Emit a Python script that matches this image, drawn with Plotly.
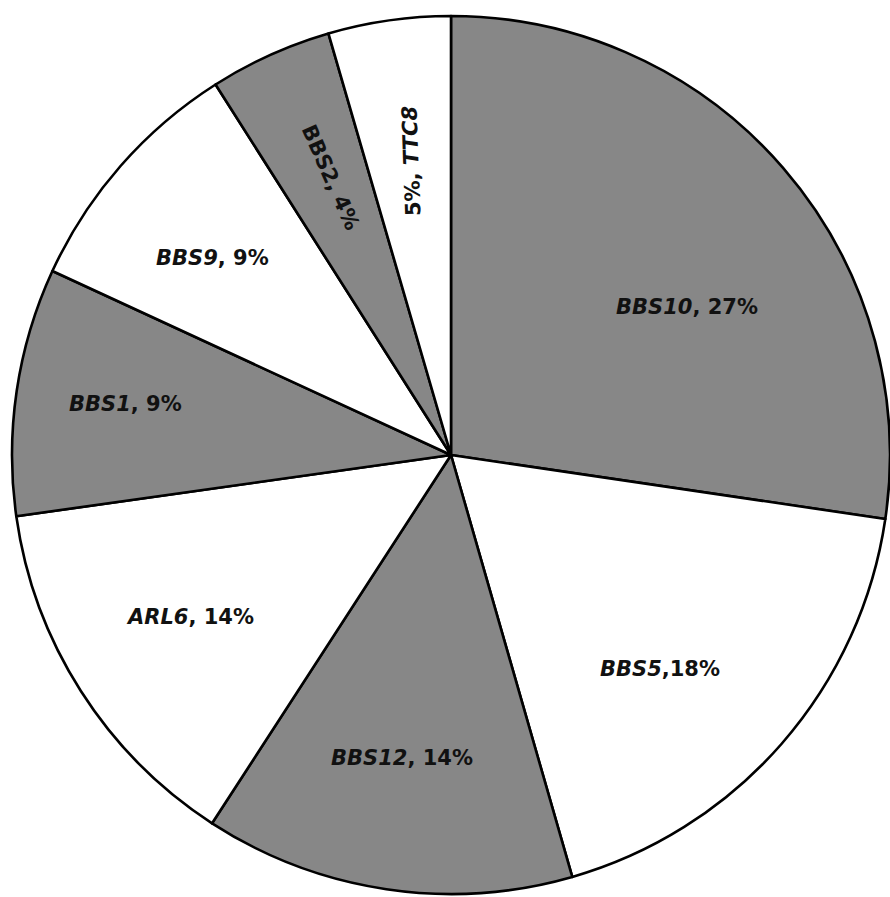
import math
import plotly.graph_objects as go

# Data (share of patients, %)
genes = ["BBS10", "BBS5", "BBS12", "ARL6", "BBS1", "BBS9", "BBS2", "TTC8"]
shares = [27.3, 18.2, 13.6, 13.6, 9.1, 9.1, 4.5, 4.5]
label_texts = [
    "<i>BBS10</i>, 27%",
    "<i>BBS5</i>,18%",
    "<i>BBS12</i>, 14%",
    "<i>ARL6</i>, 14%",
    "<i>BBS1</i>, 9%",
    "<i>BBS9</i>, 9%",
    "BBS2, 4%",
    "5%, <i>TTC8</i>",
]

# Styles
GRAY = "#878787"
WHITE = "#ffffff"
colors = [GRAY, WHITE, GRAY, WHITE, GRAY, WHITE, GRAY, WHITE]
label_radius = [0.635, 0.68, 0.70, 0.70, 0.75, 0.705, 0.69, 0.675]
label_angle_shift = [8.7, 4.5, 0.7, 0.6, 0.5, -1.6, 0.8, 0.5]
label_rotation = [0, 0, 0, 0, 0, 0, 66, -92]

W, H = 890, 897
dom_x = [12 / W, 1.0]
dom_y = [1 - 894 / H, 1 - 16 / H]

fig = go.Figure(
    go.Pie(
        labels=genes,
        values=shares,
        sort=False,
        direction="clockwise",
        rotation=0,
        marker=dict(colors=colors, line=dict(color="#000000", width=2.6)),
        textinfo="none",
        hoverinfo="label+percent",
        showlegend=False,
        domain=dict(x=dom_x, y=dom_y),
    )
)

# label placement derived from slice angles
cx = (dom_x[0] + dom_x[1]) / 2 * W
cy = (1 - (dom_y[0] + dom_y[1]) / 2) * H
R = min((dom_x[1] - dom_x[0]) * W, (dom_y[1] - dom_y[0]) * H) / 2
total = sum(shares)
cum = 0.0
for i, v in enumerate(shares):
    mid = (cum + v / 2) / total * 360 + label_angle_shift[i]
    cum += v
    r = label_radius[i] * R
    px = cx + r * math.sin(math.radians(mid))
    py = cy - r * math.cos(math.radians(mid))
    fig.add_annotation(
        x=px / W,
        y=1 - py / H,
        xref="paper",
        yref="paper",
        text="<b>" + label_texts[i] + "</b>",
        showarrow=False,
        textangle=label_rotation[i],
        xanchor="center",
        yanchor="middle",
        font=dict(family="DejaVu Sans", size=21, color="#111111"),
    )

fig.update_layout(
    width=W,
    height=H,
    margin=dict(l=0, r=0, t=0, b=0),
    paper_bgcolor="#ffffff",
    plot_bgcolor="#ffffff",
)

fig.write_html("out.html")
